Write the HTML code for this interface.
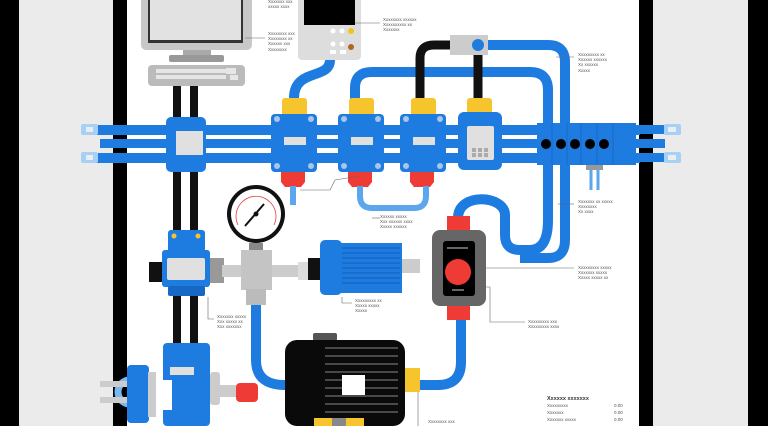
<!DOCTYPE html><html><head><style>body{margin:0;background:#fff}svg{display:block}text{font-family:"Liberation Sans",sans-serif;font-size:4.5px;fill:#555}</style></head><body>
<svg width="768" height="426" viewBox="0 0 768 426" xmlns="http://www.w3.org/2000/svg">
<rect width="768" height="426" fill="#fff"/>
<rect x="0" width="19" height="426" fill="#000"/><rect x="19" width="94" height="426" fill="#ebebeb"/><rect x="113" width="14" height="426" fill="#000"/>
<rect x="639" width="14" height="426" fill="#000"/><rect x="653" width="95" height="426" fill="#ebebeb"/><rect x="748" width="20" height="426" fill="#000"/>
<!-- black cables -->
<rect x="173" y="86" width="8" height="340" fill="#111"/><rect x="190" y="86" width="8" height="340" fill="#111"/>
<!-- monitor -->
<rect x="141" y="-6" width="111" height="56" rx="5" fill="#c8c8c8"/><rect x="148" y="-6" width="95" height="49" fill="#333"/><rect x="150" y="-6" width="91" height="46" fill="#e2e2e2"/>
<rect x="183" y="50" width="28" height="6" fill="#aaa"/><rect x="169" y="55" width="55" height="7" rx="2" fill="#999"/>
<rect x="148" y="65" width="97" height="21" rx="4" fill="#bbb"/>
<g fill="#e6e6e6"><rect x="156" y="69" width="70" height="4"/><rect x="156" y="75" width="70" height="4"/><rect x="226" y="68" width="10" height="6"/><rect x="230" y="75" width="8" height="5"/></g>
<!-- control panel -->
<rect x="298" y="-5" width="63" height="65" rx="4" fill="#ddd"/><rect x="304" y="-5" width="51" height="30" fill="#000"/>
<g fill="#fff"><circle cx="333" cy="31" r="2.5"/><circle cx="342" cy="31" r="2.5"/><circle cx="333" cy="44" r="2.5"/><circle cx="342" cy="44" r="2.5"/><rect x="330" y="50" width="6" height="4"/><rect x="340" y="50" width="6" height="4"/></g>
<circle cx="351" cy="31" r="3" fill="#f0c419"/><circle cx="351" cy="47" r="3" fill="#b5651d"/>
<!-- pipes upper -->
<g fill="none" stroke-width="10" stroke="#1e7be0">
<path d="M330,60 C330,80 294,68 294,98"/>
<path d="M355,100 L355,88 Q355,72 372,72 L530,72 Q548,72 548,90 L548,220 Q548,250 530,250 L520,250 Q505,250 505,235 L505,215 C505,195 458,192 458,218"/>
<path d="M488,45 L548,45 Q565,45 565,62 L565,240 Q565,258 548,258 L520,258"/>
</g>
<path d="M420,100 L420,58 Q420,45 434,45 L452,45" fill="none" stroke="#111" stroke-width="9"/>
<path d="M478,45 L478,100" fill="none" stroke="#111" stroke-width="9"/>
<rect x="450" y="35" width="38" height="20" fill="#ccc"/><circle cx="478" cy="45" r="6" fill="#1e7be0"/>
<!-- rail -->
<g fill="#1e7be0"><rect x="92" y="125" width="548" height="10"/><rect x="100" y="139" width="540" height="9"/><rect x="92" y="153" width="548" height="10"/>
<rect x="640" y="125" width="30" height="9"/><rect x="640" y="139" width="25" height="9"/><rect x="640" y="153" width="30" height="9"/></g>
<g fill="#a8d0f5"><rect x="81" y="124" width="17" height="11" rx="2"/><rect x="81" y="152" width="17" height="11" rx="2"/><rect x="664" y="124" width="17" height="11" rx="2"/><rect x="664" y="152" width="17" height="11" rx="2"/></g>
<g fill="#e8eef5"><rect x="86" y="127" width="7" height="5"/><rect x="86" y="155" width="7" height="5"/><rect x="668" y="127" width="8" height="5"/><rect x="668" y="155" width="8" height="5"/></g>
<!-- junction -->
<rect x="166" y="117" width="40" height="55" rx="5" fill="#1e7be0"/><rect x="176" y="131" width="27" height="24" fill="#e0e0e0"/>
<!-- manifolds -->
<g id="m"><rect x="282" y="98" width="25" height="19" rx="3" fill="#f6c52e"/><rect x="271" y="114" width="46" height="58" rx="4" fill="#1e7be0"/><rect x="284" y="137" width="22" height="8" fill="#e0e0e0"/><path d="M281,172 h24 v10 l-4,5 h-16 l-4,-5z" fill="#ef3b36"/>
<g fill="#a9c6e8"><circle cx="277" cy="119" r="3"/><circle cx="311" cy="119" r="3"/><circle cx="277" cy="166" r="3"/><circle cx="311" cy="166" r="3"/></g></g>
<use href="#m" x="67"/><use href="#m" x="129"/>
<rect x="467" y="98" width="25" height="17" rx="3" fill="#f6c52e"/>
<rect x="458" y="112" width="44" height="58" rx="6" fill="#1e7be0"/><rect x="467" y="126" width="27" height="34" rx="2" fill="#e0e0e0"/>
<g fill="#aaa"><rect x="472" y="148" width="4" height="4"/><rect x="478" y="148" width="4" height="4"/><rect x="484" y="148" width="4" height="4"/><rect x="472" y="153" width="4" height="4"/><rect x="478" y="153" width="4" height="4"/><rect x="484" y="153" width="4" height="4"/></g>
<!-- terminal -->
<rect x="537" y="123" width="99" height="42" fill="#1e7be0"/>
<g stroke="#1668c4" stroke-width="0.8"><line x1="552" y1="123" x2="552" y2="165"/><line x1="567" y1="123" x2="567" y2="165"/><line x1="581" y1="123" x2="581" y2="165"/><line x1="597" y1="123" x2="597" y2="165"/><line x1="613" y1="123" x2="613" y2="165"/></g>
<g fill="#000"><circle cx="546" cy="144" r="5"/><circle cx="561" cy="144" r="5"/><circle cx="575" cy="144" r="5"/><circle cx="590" cy="144" r="5"/><circle cx="604" cy="144" r="5"/></g>
<rect x="586" y="165" width="17" height="5" fill="#999"/><g stroke="#5aa7ee" stroke-width="3"><line x1="591" y1="170" x2="591" y2="190"/><line x1="598" y1="170" x2="598" y2="190"/></g>
<!-- light blue under -->
<g fill="none" stroke="#5aa7ee" stroke-width="6"><path d="M293,186 V205"/><path d="M360,186 V196 Q360,208 372,208 H414 Q426,208 426,196 V186"/></g>
<path d="M300,190 L330,190 L335,180 L360,176" fill="none" stroke="#666" stroke-width="0.6"/>
<!-- gauge -->
<circle cx="256" cy="214" r="29" fill="#111"/><circle cx="256" cy="214" r="25" fill="#fff"/><path d="M238,225 A20,20 0 1,1 274,225" fill="none" stroke="#e04040" stroke-width="0.8"/>
<line x1="245" y1="226" x2="264" y2="204" stroke="#111" stroke-width="2"/><circle cx="256" cy="214" r="2.5" fill="#111"/>
<rect x="249" y="243" width="14" height="7" fill="#888"/>
<!-- valve block -->
<rect x="149" y="262" width="14" height="20" fill="#111"/>
<rect x="168" y="230" width="37" height="22" rx="3" fill="#1e7be0"/><circle cx="174" cy="236" r="2.5" fill="#f6c52e"/><circle cx="198" cy="236" r="2.5" fill="#f6c52e"/>
<rect x="162" y="250" width="48" height="37" rx="3" fill="#1e7be0"/><rect x="167" y="258" width="38" height="22" rx="2" fill="#e0e0e0"/><rect x="168" y="286" width="37" height="10" rx="2" fill="#1668c4"/>
<!-- tee -->
<rect x="210" y="258" width="14" height="25" fill="#999"/><rect x="222" y="265" width="90" height="12" fill="#ccc"/>
<rect x="241" y="250" width="31" height="40" fill="#c4c4c4"/><rect x="246" y="289" width="20" height="16" fill="#bbb"/><rect x="298" y="262" width="12" height="18" fill="#ddd"/>
<rect x="308" y="258" width="14" height="22" fill="#111"/>
<!-- blue motor -->
<rect x="320" y="240" width="22" height="55" rx="5" fill="#1e7be0"/><rect x="338" y="243" width="64" height="50" fill="#1e7be0"/>
<g stroke="#1668c4" stroke-width="1.5"><line x1="342" y1="248" x2="400" y2="248"/><line x1="342" y1="253" x2="400" y2="253"/><line x1="342" y1="258" x2="400" y2="258"/><line x1="342" y1="263" x2="400" y2="263"/><line x1="342" y1="268" x2="400" y2="268"/><line x1="342" y1="273" x2="400" y2="273"/><line x1="342" y1="278" x2="400" y2="278"/><line x1="342" y1="283" x2="400" y2="283"/></g>
<rect x="402" y="259" width="18" height="14" fill="#ccc"/>
<!-- hose to black motor -->
<path d="M256,305 V360 Q256,385 285,385" fill="none" stroke="#1e7be0" stroke-width="10"/>
<!-- switch -->
<rect x="447" y="216" width="23" height="14" fill="#ef3b36"/><rect x="447" y="304" width="23" height="16" fill="#ef3b36"/>
<rect x="432" y="230" width="54" height="76" rx="8" fill="#666"/><rect x="443" y="241" width="32" height="55" rx="3" fill="#000"/>
<circle cx="458" cy="272" r="13" fill="#ef3b36"/><line x1="447" y1="248" x2="468" y2="248" stroke="#ccc"/><line x1="452" y1="290" x2="464" y2="290" stroke="#ccc"/>
<path d="M461,320 V362 Q461,385 438,385 H418" fill="none" stroke="#1e7be0" stroke-width="10"/>
<rect x="404" y="368" width="16" height="24" fill="#f6c52e"/>
<!-- black motor -->
<rect x="313" y="333" width="24" height="8" rx="2" fill="#555"/>
<rect x="285" y="340" width="120" height="86" rx="12" fill="#0a0a0a"/>
<g stroke="#888" stroke-width="1"><line x1="325" y1="348" x2="398" y2="348"/><line x1="325" y1="356" x2="398" y2="356"/><line x1="325" y1="364" x2="398" y2="364"/><line x1="325" y1="372" x2="398" y2="372"/><line x1="325" y1="380" x2="398" y2="380"/><line x1="325" y1="388" x2="398" y2="388"/><line x1="325" y1="396" x2="398" y2="396"/><line x1="325" y1="404" x2="398" y2="404"/><line x1="325" y1="412" x2="398" y2="412"/></g>
<rect x="342" y="375" width="23" height="20" fill="#fff"/>
<rect x="314" y="418" width="18" height="8" fill="#f6c52e"/><rect x="332" y="418" width="14" height="8" fill="#888"/><rect x="346" y="418" width="18" height="8" fill="#f6c52e"/>
<!-- pump -->
<path d="M130,380 A12,12 0 0,0 130,404" fill="none" stroke="#7ab8f0" stroke-width="7"/><rect x="100" y="381" width="35" height="6" fill="#ccc"/><rect x="100" y="397" width="35" height="6" fill="#ccc"/>
<rect x="127" y="365" width="22" height="58" rx="4" fill="#1e7be0"/><rect x="148" y="372" width="8" height="45" fill="#ccc"/>
<rect x="163" y="343" width="47" height="83" rx="4" fill="#1e7be0"/><rect x="156" y="380" width="16" height="30" fill="#fff"/><rect x="170" y="367" width="24" height="8" fill="#e0e0e0"/>
<rect x="210" y="372" width="10" height="33" rx="3" fill="#ccc"/><rect x="218" y="385" width="18" height="12" fill="#ccc"/><rect x="236" y="383" width="22" height="19" rx="4" fill="#ef3b36"/>
<!-- leader lines and labels -->
<g stroke="#666" stroke-width="0.6" fill="none">
<line x1="245" y1="38" x2="265" y2="38"/><line x1="355" y1="23" x2="380" y2="23"/><line x1="556" y1="57" x2="574" y2="57"/>
<line x1="558" y1="204" x2="574" y2="204"/><line x1="486" y1="268" x2="574" y2="268"/><path d="M486,287 H490 V322 H525"/>
<path d="M208,297 V319 H214"/><path d="M342,297 V303 H352"/><line x1="418" y1="392" x2="418" y2="426"/>
<line x1="372" y1="218" x2="380" y2="218"/>
</g>
<text x="268" y="3">Xxxxxxx xxx</text><text x="268" y="8">xxxxx xxxx</text>
<text x="268" y="35">Xxxxxxxx xxx</text><text x="268" y="40">Xxxxxxxx xx</text><text x="268" y="45">Xxxxxx xxx</text><text x="268" y="51">Xxxxxxxx</text>
<text x="383" y="21">Xxxxxxxx xxxxxx</text><text x="383" y="26">Xxxxxxxxxx xx</text><text x="383" y="31">Xxxxxxx</text>
<text x="578" y="56">Xxxxxxxxx xx</text><text x="578" y="61">Xxxxxx xxxxxx</text><text x="578" y="66">Xx xxxxxx</text><text x="578" y="72">Xxxxx</text>
<text x="578" y="203">Xxxxxxx xx xxxxx</text><text x="578" y="208">Xxxxxxxx</text><text x="578" y="213">Xx xxxx</text>
<text x="380" y="218">Xxxxxx xxxxx</text><text x="380" y="223">Xxx xxxxxx xxxx</text><text x="380" y="228">Xxxxx xxxxxx</text>
<text x="578" y="269">Xxxxxxxxx xxxxx</text><text x="578" y="274">Xxxxxxx xxxxx</text><text x="578" y="279">Xxxxx xxxxx xx</text>
<text x="528" y="323">Xxxxxxxxx xxx</text><text x="528" y="328">Xxxxxxxxx xxxx</text>
<text x="217" y="318">Xxxxxxx xxxxx</text><text x="217" y="323">Xxx xxxxx xx</text><text x="217" y="328">Xxx xxxxxxx</text>
<text x="355" y="302">Xxxxxxxxx xx</text><text x="355" y="307">Xxxxx xxxxx</text><text x="355" y="312">Xxxxx</text>
<text x="428" y="423">Xxxxxxxx xxx</text>
<text x="547" y="400" style="font-size:5.5px;font-weight:bold;fill:#333">Xxxxxx xxxxxxx</text>
<text x="547" y="407">Xxxxxxxxx</text><text x="614" y="407">0.00</text>
<text x="547" y="414">Xxxxxxx</text><text x="614" y="414">0.00</text>
<text x="547" y="421">Xxxxxxx xxxxx</text><text x="614" y="421">0.00</text>
</svg></body></html>
